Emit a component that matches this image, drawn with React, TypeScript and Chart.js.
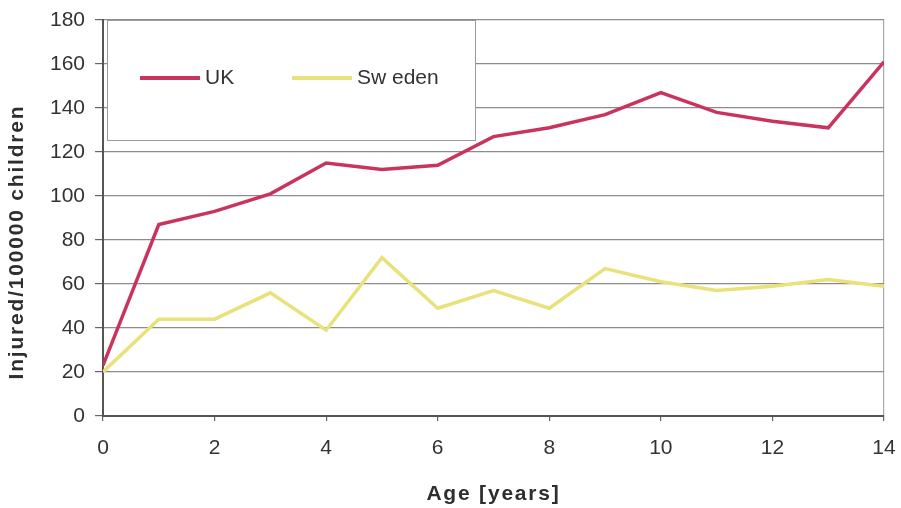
import React, { useEffect, useRef } from "react";
import { Chart, registerables } from "chart.js";

Chart.register(...registerables);

const ages = [0, 1, 2, 3, 4, 5, 6, 7, 8, 9, 10, 11, 12, 13, 14];
const ukValues = [23, 87, 93, 101, 115, 112, 114, 127, 131, 137, 147, 138, 134, 131, 161];
const swedenValues = [20, 44, 44, 56, 39, 72, 49, 57, 49, 67, 61, 57, 59, 62, 59];
const seriesNames = ["UK", "Sw eden"];
const xTitle = "Age [years]";
const yTitle = "Injured/100000 children";

const UK_COLOR = "#c9345f";
const SWE_COLOR = "#e9e27a";
const FONT = "'Liberation Sans', Arial, sans-serif";

const overlayPlugin = {
  id: "overlay",
  afterDatasetsDraw(chart: any) {
    const { ctx, chartArea } = chart;
    ctx.save();
    const bx = chartArea.left + 4;
    const by = chartArea.top;
    const bw = 368;
    const bh = 120;
    ctx.fillStyle = "#ffffff";
    ctx.fillRect(bx, by, bw, bh);
    ctx.strokeStyle = "#9a9a9a";
    ctx.lineWidth = 1;
    ctx.strokeRect(bx + 0.5, by + 0.5, bw, bh);
    const ly = by + 58;
    const items = [
      { name: seriesNames[0], color: UK_COLOR, x0: bx + 33 },
      { name: seriesNames[1], color: SWE_COLOR, x0: bx + 185 },
    ];
    ctx.font = `21px ${FONT}`;
    ctx.textBaseline = "middle";
    ctx.textAlign = "left";
    for (const it of items) {
      ctx.strokeStyle = it.color;
      ctx.lineWidth = 4;
      ctx.beginPath();
      ctx.moveTo(it.x0, ly);
      ctx.lineTo(it.x0 + 60, ly);
      ctx.stroke();
      ctx.fillStyle = "#333333";
      ctx.fillText(it.name, it.x0 + 65, ly);
    }
    ctx.restore();
  },
  afterDraw(chart: any) {
    const { ctx, chartArea } = chart;
    ctx.save();
    ctx.fillStyle = "#2e2e2e";
    ctx.font = `bold 21px ${FONT}`;
    (ctx as any).letterSpacing = "1.8px";
    ctx.textAlign = "center";
    ctx.textBaseline = "alphabetic";
    ctx.fillText(xTitle, (chartArea.left + chartArea.right) / 2, 500);
    ctx.translate(23, 242);
    ctx.rotate(-Math.PI / 2);
    ctx.fillText(yTitle, 0, 0);
    ctx.restore();
  },
};

export default function App() {
  const canvasRef = useRef<HTMLCanvasElement | null>(null);

  useEffect(() => {
    const canvas = canvasRef.current;
    if (!canvas) return;
    const chart = new Chart(canvas, {
      type: "line",
      data: {
        datasets: [
          {
            label: seriesNames[0],
            data: ages.map((a, i) => ({ x: a, y: ukValues[i] })),
            borderColor: UK_COLOR,
            borderWidth: 3.5,
            pointRadius: 0,
            tension: 0,
          },
          {
            label: seriesNames[1],
            data: ages.map((a, i) => ({ x: a, y: swedenValues[i] })),
            borderColor: SWE_COLOR,
            borderWidth: 3.5,
            pointRadius: 0,
            tension: 0,
          },
        ],
      },
      options: {
        animation: false,
        responsive: false,
        maintainAspectRatio: false,
        layout: {
          autoPadding: false,
          padding: { top: 20, right: 17, left: 0, bottom: 0 },
        },
        plugins: {
          legend: { display: false },
          tooltip: { enabled: false },
        },
        scales: {
          x: {
            type: "linear",
            min: 0,
            max: 14,
            afterFit: (s: any) => {
              s.height = 92;
              s.paddingLeft = 0;
              s.paddingRight = 0;
              s.paddingTop = 0;
              s.paddingBottom = 0;
            },
            ticks: {
              stepSize: 2,
              color: "#333333",
              font: { family: FONT, size: 21 },
              padding: 15,
              maxRotation: 0,
            },
            grid: {
              color: (c: any) => (c.tick && c.tick.value === 14 ? "#a8a8a8" : "rgba(0,0,0,0)"),
              tickColor: "#666666",
              tickLength: 5,
              lineWidth: 1.2,
            },
            border: { color: "#555555", width: 2 },
          },
          y: {
            min: 0,
            max: 180,
            afterFit: (s: any) => {
              s.width = 103;
              s.paddingLeft = 0;
              s.paddingRight = 0;
              s.paddingTop = 0;
              s.paddingBottom = 0;
            },
            ticks: {
              stepSize: 20,
              color: "#333333",
              font: { family: FONT, size: 21 },
              padding: 10,
            },
            grid: {
              color: "#8c8c8c",
              tickColor: "#666666",
              tickLength: 8,
              lineWidth: 1.2,
            },
            border: { color: "#555555", width: 2 },
          },
        },
      },
      plugins: [overlayPlugin],
    });
    return () => chart.destroy();
  }, []);

  return (
    <div style={{ position: "fixed", left: 0, top: 0, width: 901, height: 508, background: "#ffffff" }}>
      <canvas ref={canvasRef} width={901} height={508} style={{ width: 901, height: 508, display: "block" }} />
    </div>
  );
}
